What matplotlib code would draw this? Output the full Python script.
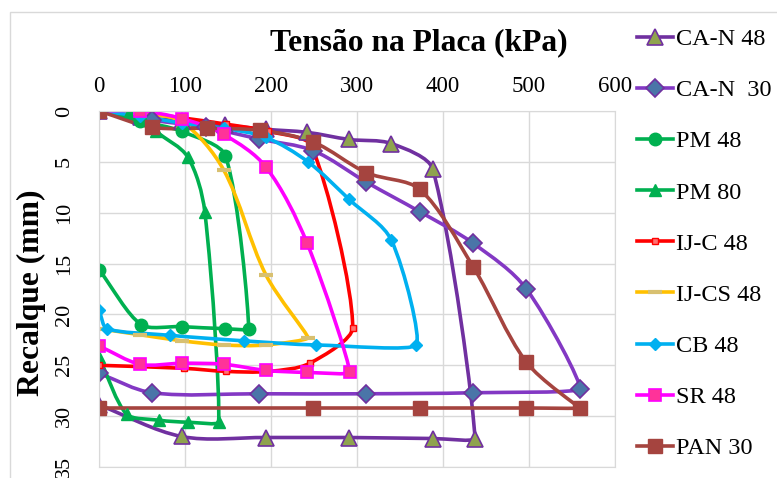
import matplotlib
matplotlib.use("Agg")
import matplotlib.pyplot as plt
import numpy as np
from matplotlib.path import Path
from matplotlib.patches import PathPatch, Rectangle
from matplotlib.lines import Line2D

plt.rcParams['font.family'] = ['Liberation Serif', 'DejaVu Serif']

# Dados (tensão kPa, recalque mm): carregamento + descarregamento
can48_x = [0, 48.6, 97, 146, 194, 242, 291, 340, 388, 437, 388, 291, 194, 96, 0]
can48_y = [0, 0.6, 1.0, 1.4, 1.8, 2.1, 2.8, 3.2, 5.7, 32.2, 32.2, 32.1, 32.1, 32.0, 28.9]

can30_x = [0, 62, 124, 186, 249, 311, 373, 435, 497, 559, 435, 311, 186, 62, 0]
can30_y = [0, 0.9, 1.6, 2.75, 3.9, 7.0, 9.9, 13.0, 17.5, 27.3, 27.7, 27.8, 27.8, 27.7, 25.8]

pm48_x = [0, 48, 96, 147, 174, 146, 96, 49, 0]
pm48_y = [0, 1.0, 2.0, 4.4, 21.4, 21.4, 21.2, 21.0, 15.6]

pm80_x = [0, 36, 66, 103, 123, 139, 104, 70, 32, 0]
pm80_y = [0, 0.0, 2.0, 4.5, 9.9, 30.6, 30.6, 30.4, 29.8, 24.2]

ijc48_x = [0, 49, 99, 148, 197, 247, 295, 245, 197, 148, 99, 0]
ijc48_y = [0, 0.2, 0.7, 1.3, 2.0, 3.4, 21.3, 24.8, 25.6, 25.6, 25.3, 25.0]

ijcs48_x = [0, 48, 97, 145, 194, 243, 194, 145, 97, 48, 0]
ijcs48_y = [0, 0.2, 1.1, 5.8, 16.1, 22.3, 23.0, 23.0, 22.6, 22.0, 21.4]

cb48_x = [0, 48, 97, 145, 194, 243, 291, 340, 369, 252, 169, 82, 9, 0]
cb48_y = [0, 0.5, 1.2, 1.7, 2.6, 5.0, 8.7, 12.7, 23.0, 23.0, 22.6, 22.05, 21.4, 19.6]

sr48_x = [0, 48, 96.5, 145, 194, 242, 291.5, 242, 194, 145, 96.5, 48, 0]
sr48_y = [0, 0.0, 0.75, 2.3, 5.5, 13.0, 25.7, 25.7, 25.5, 24.9, 24.8, 24.9, 23.1]

pan30_x = [0, 62, 125, 187, 249, 311, 373, 435, 497, 559, 497, 373, 249, 0]
pan30_y = [0, 1.6, 1.7, 1.9, 3.05, 6.06, 7.7, 15.3, 24.7, 29.2, 29.2, 29.2, 29.2, 29.2]

nomes = ["CA-N 48", "CA-N  30", "PM 48", "PM 80", "IJ-C 48", "IJ-CS 48", "CB 48", "SR 48", "PAN 30"]

# escala aproximada em pixels por unidade (para suavizar em espaço de tela)
SX, SY = 0.86, 10.17


def curva_suave(xs, ys):
    # linha suavizada parecida com a do Excel (Bezier), menos curva nos cantos fechados
    p = np.column_stack([np.array(xs) * SX, np.array(ys) * SY]).astype(float)
    n = len(p)
    tang = []
    for i in range(n):
        a = p[i - 1] if i > 0 else p[i]
        b = p[i + 1] if i < n - 1 else p[i]
        d = b - a
        nd = np.hypot(*d)
        d = d / nd if nd > 0 else d
        fator = 1.0
        if 0 < i < n - 1:
            u = p[i] - p[i - 1]
            v = p[i + 1] - p[i]
            nu, nv = np.hypot(*u), np.hypot(*v)
            if nu > 0 and nv > 0:
                c = np.dot(u, v) / (nu * nv)
                fator = max(0.0, (1 + c) / 2) ** 1.5
        tang.append((d, fator))
    verts = [p[0]]
    codes = [Path.MOVETO]
    for i in range(n - 1):
        seg = np.hypot(*(p[i + 1] - p[i]))
        d1, f1 = tang[i]
        d2, f2 = tang[i + 1]
        c1 = p[i] + d1 * seg / 3 * f1
        c2 = p[i + 1] - d2 * seg / 3 * f2
        verts += [c1, c2, p[i + 1]]
        codes += [Path.CURVE4] * 3
    verts = np.array(verts) / np.array([SX, SY])
    return Path(verts, codes)


estilos = [
    (can48_x, can48_y, dict(color="#7030A0", marker="^", ms=12, mfc="#8FA34E", mec="#7030A0", mew=1.2)),
    (can30_x, can30_y, dict(color="#8338C4", marker="D", ms=9, mfc="#4A75A8", mec="#7030A0", mew=1.2)),
    (pm48_x, pm48_y, dict(color="#00B050", marker="o", ms=9, mfc="#00B050", mec="#00B050", mew=1)),
    (pm80_x, pm80_y, dict(color="#00B050", marker="^", ms=9, mfc="#00B050", mec="#00B050", mew=1)),
    (ijc48_x, ijc48_y, dict(color="#FF0000", marker="s", ms=4, mfc="#FF7070", mec="#FF0000", mew=1)),
    (ijcs48_x, ijcs48_y, dict(color="#FFC000", marker="_", ms=10, mfc="#D8C070", mec="#D8C070", mew=3)),
    (cb48_x, cb48_y, dict(color="#00B0F0", marker="D", ms=6, mfc="#00B0F0", mec="#00B0F0", mew=1)),
    (sr48_x, sr48_y, dict(color="#FF00FF", marker="s", ms=8, mfc="#FF3399", mec="#FF00FF", mew=1.2)),
    (pan30_x, pan30_y, dict(color="#A5443F", marker="s", ms=10, mfc="#A5443F", mec="#A5443F", mew=1)),
]

fig = plt.figure(figsize=(7.77, 4.78), dpi=100)
ax = fig.add_axes([99 / 777, 1 - 467 / 478, (615 - 99) / 777, (467 - 111) / 478])

handles = []
for (xs, ys, st), nome in zip(estilos, nomes):
    ax.add_patch(PathPatch(curva_suave(xs, ys), fill=False, edgecolor=st["color"], lw=2.6,
                           capstyle="round", joinstyle="round"))
    ax.plot(xs, ys, linestyle="none", marker=st["marker"], ms=st["ms"], mfc=st["mfc"], mec=st["mec"], mew=st["mew"])
    handles.append(Line2D([], [], color=st["color"], lw=2.6, marker=st["marker"], ms=st["ms"],
                          mfc=st["mfc"], mec=st["mec"], mew=st["mew"], label=nome))

ax.set_xlim(0, 600)
ax.set_ylim(35, 0)
ax.set_xticks(np.arange(0, 601, 100))
ax.set_yticks(np.arange(0, 36, 5))
ax.xaxis.tick_top()
ax.tick_params(axis="x", length=0, pad=10, labelsize=16.5)
ax.tick_params(axis="y", length=0, pad=18, labelsize=16)
for lb in ax.get_yticklabels():
    lb.set_rotation(90)
    lb.set_va("center")
ax.grid(True, color="#D9D9D9", lw=1)
ax.set_axisbelow(True)
for s in ax.spines.values():
    s.set_color("#D9D9D9")

fig.text(419 / 777, 1 - 43 / 478, "Tensão na Placa (kPa)", ha="center", va="center", fontsize=22.7, fontweight="bold")
fig.text(31 / 777, 1 - 293 / 478, "Recalque (mm)", ha="center", va="center", rotation=90, fontsize=22.8, fontweight="bold")

fig.legend(handles=handles, loc="upper left", bbox_to_anchor=(637 / 777, 1 - 28 / 478), frameon=False,
           fontsize=17.5, labelspacing=1.2, handlelength=1.5, handletextpad=0.12, borderpad=0, borderaxespad=0)

fig.patches.append(Rectangle((10 / 777, -0.1), 1.2, 1 - 12 / 478 + 0.1, transform=fig.transFigure,
                             fill=False, edgecolor="#D9D9D9", lw=1))

fig.savefig("out.png", dpi=100)
